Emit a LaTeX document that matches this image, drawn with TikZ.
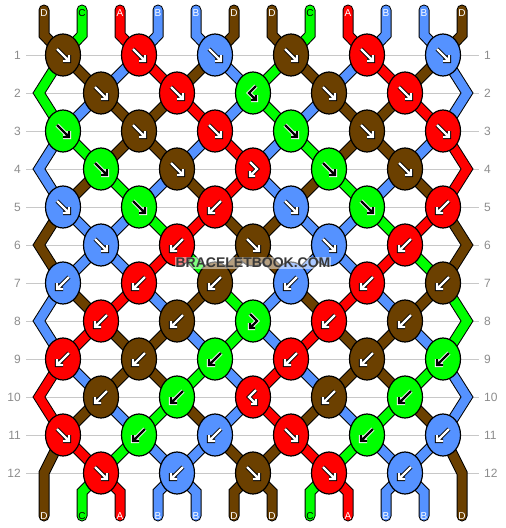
\documentclass[tikz,border=0pt]{standalone}
\usepackage{fontspec}
\setmainfont{Liberation Sans}
\usetikzlibrary{calc, backgrounds, shapes.geometric}

\definecolor{strD}{HTML}{6B4000}
\definecolor{strC}{HTML}{00FF00}
\definecolor{strA}{HTML}{FF0000}
\definecolor{strB}{HTML}{5592FF}
\definecolor{rowgray}{HTML}{C8C8C8}
\definecolor{numgray}{HTML}{8C8C8C}

\tikzstyle{knot}      = [ellipse,draw=black,line width=1.2pt,fill=#1,minimum width=35pt,minimum height=42pt,inner sep=0pt]
\tikzstyle{strand}    = [draw=black,double=#1,double distance=9pt,line width=1pt,line cap=round,line join=miter]
\tikzstyle{rowline}   = [draw=rowgray,line width=1pt]
\tikzstyle{rownum}    = [text=numgray,font=\fontsize{12}{14}\selectfont,inner sep=5pt]
\tikzstyle{endtag}    = [font=\fontsize{10}{12}\selectfont,inner sep=0pt]
\tikzstyle{penwhite}  = [draw=white,line width=2.4pt,line join=miter,preaction={draw=black,line width=4.2pt}]
\tikzstyle{penblack}  = [draw=black,line width=2.4pt,line join=miter,preaction={draw=white,line width=4.2pt}]
\tikzstyle{watermark} = [font=\bfseries\fontsize{14}{16}\selectfont,text=black!78,fill=white,fill opacity=0.5,text opacity=1,inner sep=1pt]
\tikzset{
    pen D/.style={penwhite}, pen A/.style={penwhite}, pen B/.style={penwhite}, pen C/.style={penblack},
    tag D/.style={text=white}, tag A/.style={text=white}, tag B/.style={text=white}, tag C/.style={text=black},
    turn F/.style={insert path={++(-6,-6) -- ++(12,12) ++(0,-6) -- ++(0,6) -- ++(-6,0)}},
    turn B/.style={insert path={++(6,-6) -- ++(-12,12) ++(0,-6) -- ++(0,6) -- ++(6,0)}},
    turn FB/.style={insert path={++(-3,-7) -- ++(7,7) -- ++(-7,7) ++(0,-5) -- ++(0,5) -- ++(5,0)}},
    turn BF/.style={insert path={++(3,-7) -- ++(-7,7) -- ++(7,7) ++(0,-5) -- ++(0,5) -- ++(-5,0)}}
}

\begin{document}
\begin{tikzpicture}[x=1pt,y=-1pt]
    \useasboundingbox (0,0) rectangle (506,528);

    % knots, row by row: type/colour
    \foreach \r/\row in {1/{F/D,F/A,F/B,F/D,F/A,F/B},
                         2/{F/D,F/A,BF/C,F/D,F/A},
                         3/{F/C,F/D,F/A,F/C,F/D,F/A},
                         4/{F/C,F/D,FB/A,F/C,F/D},
                         5/{F/B,F/C,B/A,F/B,F/C,B/A},
                         6/{F/B,B/A,F/D,F/B,B/A},
                         7/{B/B,B/A,B/D,B/B,B/A,B/D},
                         8/{B/A,B/D,FB/C,B/A,B/D},
                         9/{B/A,B/D,B/C,B/A,B/D,B/C},
                         10/{B/D,B/C,BF/A,B/D,B/C},
                         11/{F/A,B/C,B/B,F/A,B/C,B/B},
                         12/{F/A,B/B,F/D,F/A,B/B}}{
        \pgfmathsetmacro\ky{55+38*(\r-1)}
        \pgfmathsetmacro\kx{isodd(\r) ? 63 : 101}
        \foreach \t/\c [count=\j] in \row {
            \node[knot=str\c] (k-\r-\j) at (\kx+76*\j-76,\ky) {};
            \draw[pen \c] (k-\r-\j.center) [turn \t];
        }
    }

    % row numbers and guide lines
    \foreach \r in {1,...,12}{
        \node[rownum,anchor=east] (nl-\r) at (26,{55+38*(\r-1)}) {\r};
        \node[rownum,anchor=west] (nr-\r) at (479,{55+38*(\r-1)}) {\r};
        \begin{pgfonlayer}{background}
            \draw[rowline] (nl-\r) -- (nr-\r);
        \end{pgfonlayer}
    }

    \begin{pgfonlayer}{background}
        % strands between knots, colour of positions 1..10 after each row
        \foreach \r/\s in {1/{D,B,A,D,B,C,D,B,A,D},
                           2/{B,D,D,A,B,C,B,D,D,A},
                           3/{C,D,D,B,A,B,C,D,D,B},
                           4/{D,C,B,D,A,B,D,C,B,D},
                           5/{B,B,C,A,D,D,B,B,C,A},
                           6/{B,B,A,C,D,D,B,B,A,C},
                           7/{D,A,B,D,C,B,D,A,B,D},
                           8/{A,D,D,B,C,B,A,D,D,B},
                           9/{B,D,D,C,B,A,B,D,D,C},
                           10/{D,B,C,D,B,A,D,B,C,D},
                           11/{A,C,B,B,D,D,A,C,B,B}}{
            \pgfmathtruncatemacro\rn{\r+1}
            \foreach \c [count=\q] in \s {
                \pgfmathtruncatemacro\ja{isodd(\r) ? floor(\q/2)+1 : floor((\q-1)/2)+1}
                \pgfmathtruncatemacro\jb{isodd(\r) ? floor((\q-1)/2)+1 : floor(\q/2)+1}
                \draw[strand=str\c] (k-\r-\ja.center) -- (k-\rn-\jb.center);
            }
        }

        % outer strands bending at the edges
        \foreach \e/\cl/\cr in {2/C/B,4/B/A,6/D/D,8/B/C,10/A/B}{
            \pgfmathtruncatemacro\ep{\e-1}
            \pgfmathtruncatemacro\en{\e+1}
            \coordinate (el-\e) at (39,{55+38*(\e-1)});
            \coordinate (er-\e) at (467,{55+38*(\e-1)});
            \draw[strand=str\cl] (k-\ep-1.center) -- (el-\e) -- (k-\en-1.center);
            \draw[strand=str\cr] (k-\ep-6.center) -- (er-\e) -- (k-\en-6.center);
        }

        % loose ends at the top
        \foreach \c [count=\q from 0] in {D,C,A,B,B,D,D,C,A,B,B,D}{
            \pgfmathtruncatemacro\ja{floor(\q/2)+1}
            \coordinate (top-\q) at (44+38*\q,10);
            \coordinate (topb-\q) at (44+38*\q,35);
            \draw[strand=str\c] (top-\q) -- (topb-\q) -- (k-1-\ja.center);
            \node[endtag,tag \c] (tl-\q) at (44+38*\q,13) {\c};
        }

        % loose ends at the bottom
        \foreach \c [count=\q from 0] in {D,C,A,B,B,D,D,C,A,B,B,D}{
            \pgfmathtruncatemacro\fj{floor((\q-1)/2)+1}
            \def\fr{12}\def\by{492}
            \ifnum\q=0 \def\fr{11}\def\fj{1}\def\by{473}\fi
            \ifnum\q=11 \def\fr{11}\def\fj{6}\def\by{473}\fi
            \coordinate (botb-\q) at (44+38*\q,\by);
            \coordinate (bot-\q) at (44+38*\q,516);
            \draw[strand=str\c] (k-\fr-\fj.center) -- (botb-\q) -- (bot-\q);
            \node[endtag,tag \c] (bl-\q) at (bot-\q) {\c};
        }
    \end{pgfonlayer}

    \node[watermark] (mark) at (253,263) {BRACELETBOOK.COM};
\end{tikzpicture}
\end{document}
